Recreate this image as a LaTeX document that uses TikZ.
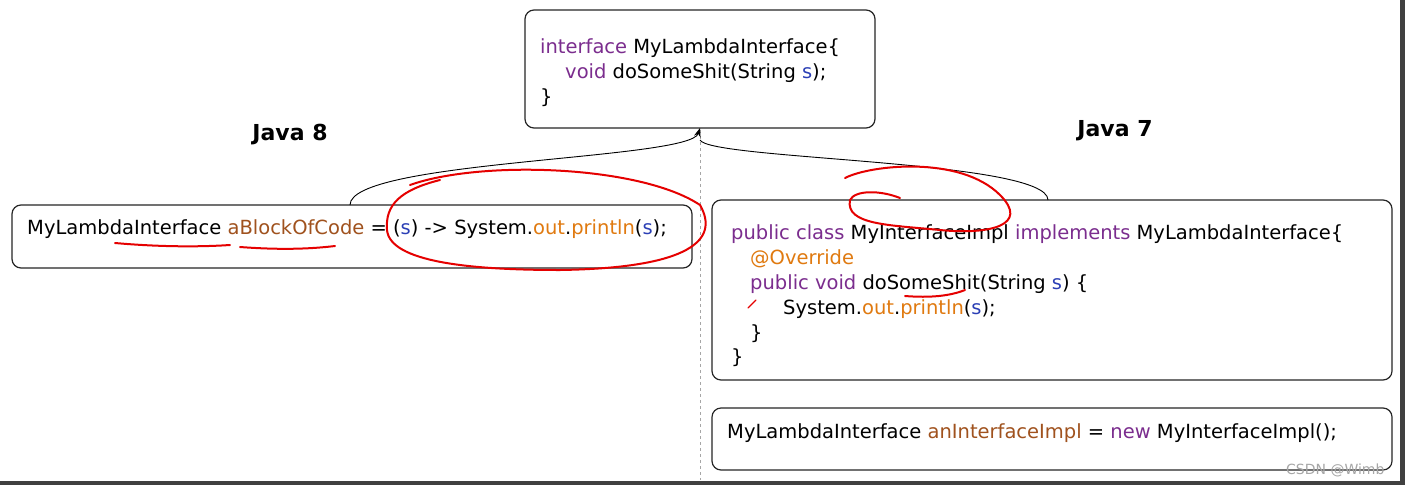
\documentclass[tikz,border=0pt]{standalone}
\usepackage{fontspec}
\setmainfont{DejaVu Sans}
\usetikzlibrary{arrows.meta}
\definecolor{kw}{HTML}{7B2D8E}
\definecolor{vr}{HTML}{2B3FB5}
\definecolor{og}{HTML}{E07A10}
\definecolor{br}{HTML}{A0521E}
\begin{document}
\begin{tikzpicture}[x=1pt,y=-1pt,
 box/.style={draw=black!85,line width=1.2pt,rounded corners=9pt},
 code/.style={anchor=base west,inner sep=0,font=\fontsize{19.5}{23}\selectfont},
 ttl/.style={anchor=center,font=\fontsize{22}{26}\selectfont\bfseries},
 red/.style={draw=red!90!black,line width=2pt,line cap=round},
 conn/.style={draw=black,line width=0.9pt}]
\useasboundingbox (0,0) rectangle (1405,485);
\fill[white] (0,0) rectangle (1405,485);
\fill[black!75] (1400,0) rectangle (1405,485);
\fill[black!75] (0,481) rectangle (1405,485);
\draw[gray!70,dashed] (700,130) -- (700,480);
% boxes
\draw[box] (525,10) rectangle (875,128);
\node[code] (t1) at (540,53) {\textcolor{kw}{interface} MyLambdaInterface\{};
\node[code] (t2) at (565,78) {\textcolor{kw}{void} doSomeShit(String \textcolor{vr}{s});};
\node[code] (t3) at (540,103) {\}};
\coordinate (top) at (700,128);
\node[ttl] (j8) at (290,135) {Java 8};
\node[ttl] (j7) at (1115,131) {Java 7};
\draw[box] (12,205) rectangle (692,268);
\node[code] (l1) at (27,234) {MyLambdaInterface \textcolor{br}{aBlockOfCode} = (\textcolor{vr}{s}) -> System.\textcolor{og}{out}.\textcolor{og}{println}(\textcolor{vr}{s});};
\draw[box] (712,200) rectangle (1392,380);
\node[code] (r1) at (731,239) {\textcolor{kw}{public class} MyInterfaceImpl \textcolor{kw}{implements} MyLambdaInterface\{};
\node[code] (r2) at (750,264) {\textcolor{og}{@Override}};
\node[code] (r3) at (750,289) {\textcolor{kw}{public void} doSomeShit(String \textcolor{vr}{s}) \{};
\node[code] (r4) at (783,314) {System.\textcolor{og}{out}.\textcolor{og}{println}(\textcolor{vr}{s});};
\node[code] (r5) at (750,339) {\}};
\node[code] (r6) at (731,363) {\}};
\draw[box] (712,408) rectangle (1392,470);
\node[code] (b1) at (727,438) {MyLambdaInterface \textcolor{br}{anInterfaceImpl} = \textcolor{kw}{new} MyInterfaceImpl();};
\node[anchor=base east,text=gray!70,font=\fontsize{14}{16}\selectfont] (wm) at (1388,474) {CSDN @Wimb};
% connectors
\coordinate (ls) at (350,205);
\coordinate (rs) at (1048,200);
\draw[conn,-{Stealth[length=9pt]}] (ls) .. controls (350,160) and (690,160) .. (top);
\draw[conn] (rs) .. controls (1048,160) and (710,160) .. (700,140);
% red annotations
\draw[red] (115,243) .. controls (160,247) and (200,247) .. (230,245);
\draw[red] (240,247) .. controls (280,250) and (310,249) .. (335,246);
\draw[red] (410,185) .. controls (480,160) and (640,165) .. (700,205)
  .. controls (720,240) and (690,268) .. (560,270)
  .. controls (470,270) and (390,262) .. (387,230)
  .. controls (385,205) and (400,190) .. (440,180);
\draw[red] (845,178) .. controls (870,165) and (960,155) .. (1000,195)
  .. controls (1030,225) and (990,235) .. (940,230)
  .. controls (890,225) and (845,225) .. (850,200)
  .. controls (855,190) and (880,190) .. (900,198);
\draw[red] (905,296) .. controls (930,298) and (950,296) .. (965,290);
\draw[red,line width=1.2pt] (748,308) -- (756,300);
\end{tikzpicture}
\end{document}
